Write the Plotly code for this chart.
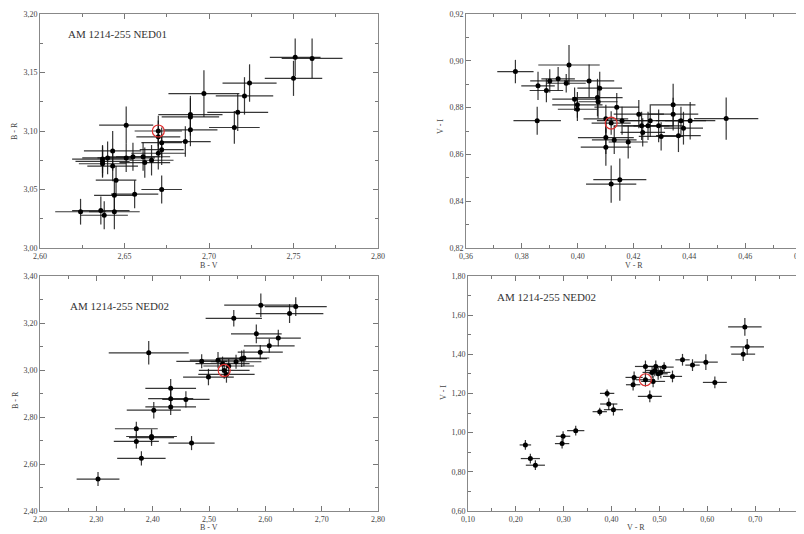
import plotly.graph_objects as go

# ---------------- data ----------------
# Panel 1: AM 1214-255 NED01, B-V vs B-R
bv1 = [2.751, 2.761, 2.750, 2.724, 2.721, 2.697, 2.717, 2.715, 2.689, 2.689, 2.689, 2.686, 2.670,
       2.651, 2.670, 2.672, 2.670, 2.672, 2.672, 2.666, 2.662, 2.661, 2.655, 2.651, 2.643, 2.640,
       2.637, 2.637, 2.637, 2.643, 2.645, 2.644, 2.656, 2.624, 2.636, 2.638, 2.644]
br1 = [3.163, 3.162, 3.145, 3.141, 3.130, 3.132, 3.116, 3.103, 3.114, 3.112, 3.101, 3.091, 3.100,
       3.105, 3.095, 3.090, 3.081, 3.084, 3.050, 3.075, 3.073, 3.078, 3.078, 3.077, 3.083, 3.077,
       3.076, 3.074, 3.072, 3.070, 3.058, 3.045, 3.046, 3.031, 3.032, 3.028, 3.031]
bv1_err = [0.015, 0.018, 0.017, 0.016, 0.017, 0.021, 0.018, 0.015, 0.019, 0.017, 0.016, 0.015, 0.014,
           0.016, 0.013, 0.012, 0.016, 0.013, 0.012, 0.013, 0.015, 0.016, 0.016, 0.017, 0.017, 0.015,
           0.018, 0.016, 0.014, 0.015, 0.012, 0.012, 0.014, 0.015, 0.017, 0.014, 0.015]
br1_err = [0.016, 0.017, 0.015, 0.016, 0.016, 0.020, 0.016, 0.014, 0.016, 0.016, 0.014, 0.013, 0.013,
           0.016, 0.014, 0.013, 0.014, 0.013, 0.012, 0.013, 0.013, 0.012, 0.012, 0.012, 0.017, 0.014,
           0.012, 0.013, 0.012, 0.013, 0.012, 0.014, 0.012, 0.011, 0.012, 0.012, 0.015]
ref1 = (2.670, 3.100)

# Panel 2: AM 1214-255 NED01, V-R vs V-I
vr1 = [0.3777, 0.3858, 0.3855, 0.3888, 0.3900, 0.3930, 0.3959, 0.3969, 0.3989, 0.3999, 0.3999,
       0.4041, 0.4079, 0.4071, 0.4073, 0.4101, 0.4120, 0.4101, 0.4101, 0.4140, 0.4159, 0.4131,
       0.4181, 0.4120, 0.4151, 0.4219, 0.4229, 0.4233, 0.4252, 0.4260, 0.4290, 0.4299, 0.4342,
       0.4342, 0.4361, 0.4370, 0.4379, 0.4403, 0.4532]
vi1 = [0.8954, 0.8893, 0.8744, 0.8873, 0.8914, 0.8923, 0.8904, 0.8982, 0.8836, 0.8812, 0.8793,
       0.8914, 0.8883, 0.8843, 0.8825, 0.8752, 0.8734, 0.8672, 0.8631, 0.8802, 0.8744, 0.8662,
       0.8653, 0.8473, 0.8492, 0.8772, 0.8722, 0.8694, 0.8722, 0.8744, 0.8722, 0.8677, 0.8812,
       0.8772, 0.8680, 0.8744, 0.8712, 0.8744, 0.8753]
vr1_err = [0.0065, 0.0060, 0.0085, 0.0060, 0.0070, 0.0060, 0.0070, 0.0110, 0.0080, 0.0090, 0.0070,
           0.0090, 0.0080, 0.0090, 0.0070, 0.0080, 0.0070, 0.0100, 0.0090, 0.0080, 0.0090, 0.0080,
           0.0070, 0.0090, 0.0095, 0.0090, 0.0100, 0.0080, 0.0090, 0.0110, 0.0090, 0.0080, 0.0080,
           0.0090, 0.0080, 0.0090, 0.0070, 0.0090, 0.0115]
vi1_err = [0.0050, 0.0060, 0.0060, 0.0050, 0.0050, 0.0050, 0.0040, 0.0085, 0.0050, 0.0055, 0.0050,
           0.0070, 0.0070, 0.0080, 0.0070, 0.0060, 0.0050, 0.0070, 0.0080, 0.0060, 0.0060, 0.0060,
           0.0070, 0.0080, 0.0090, 0.0060, 0.0060, 0.0060, 0.0060, 0.0070, 0.0070, 0.0060, 0.0090,
           0.0070, 0.0070, 0.0060, 0.0070, 0.0080, 0.0090]
ref2 = (0.412, 0.8734)

# Panel 3: AM 1214-255 NED02, B-V vs B-R
bv2 = [2.303, 2.380, 2.371, 2.371, 2.398, 2.398, 2.469, 2.402, 2.432, 2.432, 2.432, 2.459, 2.393,
       2.487, 2.499, 2.516, 2.524, 2.527, 2.531, 2.535, 2.548, 2.558, 2.562, 2.544, 2.591, 2.584,
       2.607, 2.623, 2.592, 2.643, 2.654]
br2 = [2.536, 2.624, 2.696, 2.750, 2.717, 2.712, 2.689, 2.829, 2.843, 2.878, 2.922, 2.875, 3.073,
       3.037, 2.970, 3.042, 3.027, 2.998, 2.981, 3.017, 3.035, 3.048, 3.051, 3.220, 3.076, 3.154,
       3.103, 3.136, 3.276, 3.240, 3.270]
bv2_err = [0.038, 0.043, 0.040, 0.038, 0.045, 0.040, 0.041, 0.048, 0.045, 0.040, 0.045, 0.042, 0.071,
           0.045, 0.045, 0.050, 0.048, 0.045, 0.050, 0.045, 0.045, 0.045, 0.045, 0.050, 0.040, 0.045,
           0.045, 0.040, 0.065, 0.060, 0.055]
br2_err = [0.030, 0.030, 0.030, 0.030, 0.030, 0.035, 0.030, 0.035, 0.035, 0.035, 0.040, 0.035, 0.050,
           0.030, 0.035, 0.035, 0.030, 0.035, 0.035, 0.030, 0.030, 0.035, 0.035, 0.035, 0.030, 0.040,
           0.030, 0.035, 0.050, 0.040, 0.040]
ref3 = (2.527, 2.998)

# Panel 4: AM 1214-255 NED02, V-R vs V-I
vr2 = [0.2199, 0.2303, 0.2408, 0.2966, 0.2987, 0.3251, 0.3753, 0.3907, 0.3941, 0.4039, 0.4450,
       0.4471, 0.4708, 0.4708, 0.4799, 0.4868, 0.4847, 0.4903, 0.4973, 0.5029, 0.4924, 0.5098,
       0.5273, 0.5482, 0.5691, 0.5970, 0.6158, 0.6750, 0.6834, 0.6785]
vi2 = [0.9374, 0.8678, 0.8338, 0.9442, 0.9816, 1.0104, 1.1072, 1.2006, 1.1463, 1.1174, 1.2448,
       1.2821, 1.3381, 1.2702, 1.1853, 1.2617, 1.3076, 1.3178, 1.3008, 1.3076, 1.3381, 1.3347,
       1.2872, 1.3721, 1.3449, 1.3602, 1.2566, 1.4010, 1.4383, 1.5402]
vr2_err = [0.012, 0.020, 0.020, 0.015, 0.015, 0.018, 0.015, 0.015, 0.018, 0.020, 0.015, 0.018,
           0.022, 0.020, 0.025, 0.025, 0.020, 0.020, 0.020, 0.020, 0.020, 0.020, 0.020, 0.015,
           0.015, 0.025, 0.025, 0.025, 0.035, 0.035]
vi2_err = [0.025, 0.025, 0.025, 0.025, 0.025, 0.025, 0.020, 0.020, 0.030, 0.030, 0.030, 0.030,
           0.030, 0.035, 0.030, 0.030, 0.030, 0.030, 0.030, 0.030, 0.030, 0.025, 0.030, 0.030,
           0.030, 0.040, 0.030, 0.035, 0.040, 0.045]
ref4 = (0.4708, 1.2702)

label1 = "AM 1214-255 NED01"
label2 = "AM 1214-255 NED02"
x_titles = ["B - V", "V - R", "B - V", "V - R"]
y_titles = ["B - R", "V - I", "B - R", "V - I"]

# tick definitions
p1_xt = [2.60, 2.65, 2.70, 2.75, 2.80]
p1_yt = [3.00, 3.05, 3.10, 3.15, 3.20]
p2_xt = [0.36, 0.38, 0.40, 0.42, 0.44, 0.46, 0.48]
p2_yt = [0.82, 0.84, 0.86, 0.88, 0.90, 0.92]
p3_xt = [2.20, 2.30, 2.40, 2.50, 2.60, 2.70, 2.80]
p3_yt = [2.40, 2.60, 2.80, 3.00, 3.20, 3.40]
p4_xt = [0.10, 0.20, 0.30, 0.40, 0.50, 0.60, 0.70, 0.80]
p4_yt = [0.60, 0.80, 1.00, 1.20, 1.40, 1.60, 1.80]


def comma(vals):
    return [f"{v:.2f}".replace(".", ",") for v in vals]


FONT = "Liberation Serif, Times New Roman, serif"
ERRC = "rgba(20,20,20,0.85)"
# the page body has an 8px default margin, so the figure is placed at (8, 8)
OFF = 8
W, H = 804 - OFF, 534 - OFF


def fx(px):
    return (px - OFF) / W


def fy(py):
    return 1 - (py - OFF) / H


fig = go.Figure()

panels = [
    (bv1, br1, bv1_err, br1_err, ref1, "x", "y"),
    (vr1, vi1, vr1_err, vi1_err, ref2, "x2", "y2"),
    (bv2, br2, bv2_err, br2_err, ref3, "x3", "y3"),
    (vr2, vi2, vr2_err, vi2_err, ref4, "x4", "y4"),
]
for xs, ys, ex, ey, ref, xa, ya in panels:
    fig.add_trace(go.Scatter(
        x=xs, y=ys, mode="markers", xaxis=xa, yaxis=ya,
        marker=dict(color="black", size=5),
        error_x=dict(type="data", array=ex, color=ERRC, thickness=1.2, width=0),
        error_y=dict(type="data", array=ey, color=ERRC, thickness=1.2, width=0),
        showlegend=False, hoverinfo="x+y"))
    fig.add_trace(go.Scatter(
        x=[ref[0]], y=[ref[1]], mode="markers", xaxis=xa, yaxis=ya,
        marker=dict(symbol="circle-open", color="#e03030", size=12, line=dict(width=1.2)),
        showlegend=False, hoverinfo="skip"))

X_L = [fx(40), fx(378)]
X_RT = [fx(466), fx(801)]
X_RB = [fx(468), fx(803)]
Y_T = [fy(248), fy(14)]
Y_B = [fy(511), fy(276)]


def axis(domain, rng, ticks, minor, anchor):
    return dict(
        domain=domain, range=rng, anchor=anchor, automargin=False,
        tickmode="array", tickvals=ticks, ticktext=comma(ticks),
        ticks="inside", ticklen=5, tickcolor="#777", mirror="allticks",
        minor=dict(dtick=minor, tick0=rng[0], ticks="inside", ticklen=3, tickcolor="#777"),
        showline=True, linecolor="#888", linewidth=1,
        showgrid=False, zeroline=False, ticklabeloverflow="allow",
        tickfont=dict(family=FONT, size=8, color="#444"),
    )


fig.update_layout(
    width=W, height=H,
    margin=dict(l=0, r=0, t=0, b=0, pad=0, autoexpand=False),
    paper_bgcolor="white", plot_bgcolor="white",
    xaxis=axis(X_L, [2.60, 2.80], p1_xt, 0.025, "y"),
    yaxis=axis(Y_T, [3.00, 3.20], p1_yt, 0.025, "x"),
    xaxis2=axis(X_RT, [0.36, 0.48], p2_xt, 0.01, "y2"),
    yaxis2=axis(Y_T, [0.82, 0.92], p2_yt, 0.01, "x2"),
    xaxis3=axis(X_L, [2.20, 2.80], p3_xt, 0.05, "y3"),
    yaxis3=axis(Y_B, [2.40, 3.40], p3_yt, 0.1, "x3"),
    xaxis4=axis(X_RB, [0.10, 0.80], p4_xt, 0.05, "y4"),
    yaxis4=axis(Y_B, [0.60, 1.80], p4_yt, 0.1, "x4"),
)

# axis titles placed as paper annotations (page pixel positions -> paper fractions)
title_font = dict(family=FONT, size=8, color="#444")
x_title_pos = [(209, 265), (634, 265), (209, 527), (636, 527)]
y_title_pos = [(15, 131), (440, 127), (15, 400), (443, 392)]
for t, (px, py) in zip(x_titles, x_title_pos):
    fig.add_annotation(x=fx(px), y=fy(py), xref="paper", yref="paper", text=t,
                       showarrow=False, xanchor="center", yanchor="middle", font=title_font)
for t, (px, py) in zip(y_titles, y_title_pos):
    fig.add_annotation(x=fx(px), y=fy(py), xref="paper", yref="paper", text=t,
                       showarrow=False, xanchor="center", yanchor="middle", textangle=-90,
                       font=title_font)

ann_font = dict(family=FONT, size=11, color="#333")
fig.add_annotation(x=2.6155, y=3.183, xref="x", yref="y", text=label1, showarrow=False,
                   xanchor="left", yanchor="middle", font=ann_font)
fig.add_annotation(x=0.4850, y=0.9003, xref="x2", yref="y2", text=label1, showarrow=False,
                   xanchor="left", yanchor="middle", font=ann_font)
fig.add_annotation(x=2.2490, y=3.274, xref="x3", yref="y3", text=label2, showarrow=False,
                   xanchor="left", yanchor="middle", font=ann_font)
fig.add_annotation(x=0.1560, y=1.694, xref="x4", yref="y4", text=label2, showarrow=False,
                   xanchor="left", yanchor="middle", font=ann_font)

fig.write_html("out.html")
